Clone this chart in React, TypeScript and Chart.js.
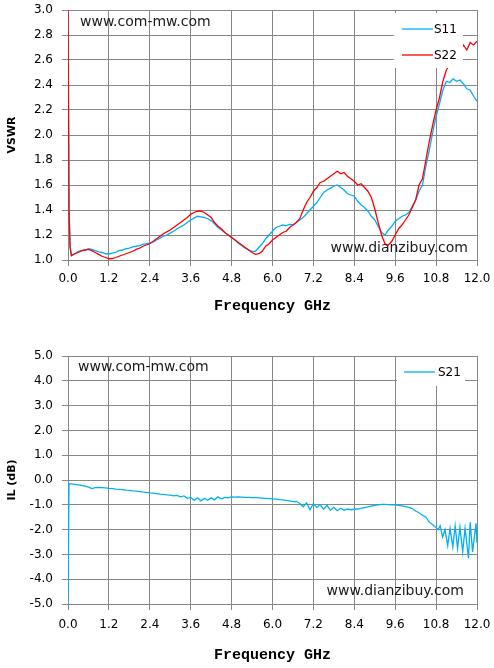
import React, { useEffect, useRef } from 'react';
import { Chart, registerables } from 'chart.js';

Chart.register(...registerables);

// ---------- data ----------
const freqTicks = [0, 1.2, 2.4, 3.6, 4.8, 6.0, 7.2, 8.4, 9.6, 10.8, 12.0];
const vswrTicks = [1.0, 1.2, 1.4, 1.6, 1.8, 2.0, 2.2, 2.4, 2.6, 2.8, 3.0];
const ilTicks = [-5, -4, -3, -2, -1, 0, 1, 2, 3, 4, 5];

const vswrFreqs = [
  0, 0.03, 0.06,
  0.1, 0.2, 0.3, 0.4, 0.5, 0.6, 0.7, 0.8, 0.9, 1.0,
  1.1, 1.2, 1.3, 1.4, 1.5, 1.6, 1.7, 1.8, 1.9, 2.0,
  2.1, 2.2, 2.3, 2.4, 2.5, 2.6, 2.7, 2.8, 2.9, 3.0,
  3.1, 3.2, 3.3, 3.4, 3.5, 3.6, 3.7, 3.8, 3.9, 4.0,
  4.1, 4.2, 4.3, 4.4, 4.5, 4.6, 4.7, 4.8, 4.9, 5.0,
  5.1, 5.2, 5.3, 5.4, 5.5, 5.6, 5.7, 5.8, 5.9, 6.0,
  6.1, 6.2, 6.3, 6.4, 6.5, 6.6, 6.7, 6.8, 6.9, 7.0,
  7.1, 7.2, 7.3, 7.4, 7.5, 7.6, 7.7, 7.8, 7.9, 8.0,
  8.1, 8.2, 8.3, 8.4, 8.5, 8.6, 8.7, 8.8, 8.9, 9.0,
  9.1, 9.2, 9.3, 9.4, 9.5, 9.6, 9.7, 9.8, 9.9, 10.0,
  10.1, 10.2, 10.3, 10.4, 10.5, 10.6, 10.7, 10.8, 10.9, 11.0,
  11.1, 11.2, 11.3, 11.4, 11.5, 11.6, 11.7, 11.8, 11.9, 12.0,
];

const s11 = [
  3.0, 1.45, 1.12,
  1.04, 1.05, 1.07, 1.075, 1.08, 1.09, 1.085, 1.075, 1.065, 1.06,
  1.05, 1.048, 1.055, 1.06, 1.075, 1.08, 1.09, 1.095, 1.105, 1.11,
  1.115, 1.125, 1.13, 1.135, 1.145, 1.16, 1.175, 1.19, 1.2, 1.215,
  1.23, 1.25, 1.265, 1.28, 1.3, 1.32, 1.335, 1.35, 1.345, 1.34,
  1.33, 1.315, 1.29, 1.26, 1.24, 1.22, 1.2, 1.18, 1.16, 1.135,
  1.115, 1.095, 1.08, 1.068, 1.07, 1.1, 1.13, 1.17, 1.2, 1.23,
  1.26, 1.27, 1.28, 1.275, 1.285, 1.28, 1.3, 1.32, 1.34, 1.37,
  1.4, 1.43, 1.46, 1.5, 1.54, 1.56, 1.575, 1.59, 1.6, 1.58,
  1.56, 1.53, 1.52, 1.51, 1.47, 1.44, 1.42, 1.39, 1.35, 1.32,
  1.27, 1.22, 1.2, 1.24, 1.27, 1.31, 1.33, 1.35, 1.36, 1.38,
  1.43, 1.48, 1.55, 1.6, 1.75, 1.88, 2.02, 2.15, 2.25, 2.36,
  2.43, 2.42, 2.45, 2.43, 2.44, 2.41, 2.37, 2.36, 2.31, 2.27,
];

const s22 = [
  3.0, 1.4, 1.1,
  1.035, 1.05, 1.06, 1.075, 1.08, 1.085, 1.075, 1.06, 1.045, 1.03,
  1.02, 1.01, 1.012, 1.02, 1.03, 1.04, 1.05, 1.06, 1.07, 1.085,
  1.095, 1.11, 1.12, 1.13, 1.15, 1.17, 1.19, 1.21, 1.225, 1.24,
  1.26, 1.28, 1.3, 1.32, 1.34, 1.365, 1.38, 1.39, 1.39, 1.38,
  1.36, 1.34, 1.3, 1.27, 1.25, 1.22, 1.2, 1.18, 1.16, 1.14,
  1.12, 1.1, 1.08, 1.06, 1.045, 1.05, 1.07, 1.11, 1.13, 1.16,
  1.18, 1.2, 1.22, 1.23, 1.26, 1.28, 1.3, 1.33, 1.4, 1.46,
  1.5, 1.55, 1.58, 1.62, 1.63, 1.65, 1.67, 1.69, 1.71, 1.69,
  1.7, 1.67, 1.65, 1.63, 1.6, 1.61, 1.58, 1.55, 1.5, 1.41,
  1.3, 1.2, 1.13, 1.12, 1.15, 1.2, 1.25, 1.28, 1.32, 1.36,
  1.42, 1.48, 1.6, 1.65, 1.8, 1.95, 2.08, 2.2, 2.3, 2.43,
  2.52, 2.56, 2.6, 2.63, 2.66, 2.72, 2.68, 2.74, 2.72, 2.75,
];

const ilFreqs = [
  0, 0.03,
  0.1, 0.2, 0.3, 0.4, 0.5, 0.6, 0.7, 0.8, 0.9, 1.0,
  1.1, 1.2, 1.3, 1.4, 1.5, 1.6, 1.7, 1.8, 1.9, 2.0,
  2.1, 2.2, 2.3, 2.4, 2.5, 2.6, 2.7, 2.8, 2.9, 3.0,
  3.1, 3.2, 3.3, 3.4, 3.5, 3.6, 3.7, 3.8, 3.9, 4.0,
  4.1, 4.2, 4.3, 4.4, 4.5, 4.6, 4.7, 4.8, 4.9, 5.0,
  5.1, 5.2, 5.3, 5.4, 5.5, 5.6, 5.7, 5.8, 5.9, 6.0,
  6.1, 6.2, 6.3, 6.4, 6.5, 6.6, 6.7, 6.8, 6.9, 7.0,
  7.1, 7.2, 7.3, 7.4, 7.5, 7.6, 7.7, 7.8, 7.9, 8.0,
  8.1, 8.2, 8.3, 8.4, 8.5, 8.6, 8.7, 8.8, 8.9, 9.0,
  9.1, 9.2, 9.3, 9.4, 9.5, 9.6, 9.7, 9.8, 9.9, 10.0,
  10.1, 10.2, 10.3, 10.4, 10.5, 10.6, 10.7, 10.8,
  10.86, 10.92, 10.99, 11.06, 11.14, 11.21, 11.29, 11.36, 11.43,
  11.5, 11.58, 11.65, 11.75, 11.8, 11.87, 11.97, 12.0,
];

const s21 = [
  -5.0, -0.15,
  -0.16, -0.18, -0.2, -0.22, -0.25, -0.29, -0.35, -0.31, -0.3, -0.31,
  -0.32, -0.34, -0.35, -0.37, -0.38, -0.39, -0.41, -0.42, -0.44, -0.45,
  -0.47, -0.49, -0.5, -0.52, -0.53, -0.55, -0.57, -0.58, -0.6, -0.61,
  -0.64, -0.62, -0.68, -0.64, -0.74, -0.7, -0.82, -0.72, -0.84, -0.74,
  -0.82, -0.72, -0.8, -0.68, -0.76, -0.7, -0.72, -0.68, -0.69, -0.68,
  -0.69, -0.7, -0.7, -0.71, -0.71, -0.72, -0.73, -0.74, -0.75, -0.76,
  -0.77, -0.79, -0.8, -0.82, -0.84, -0.87, -0.86, -0.95, -1.08, -0.92,
  -1.2, -0.95, -1.1, -1.0, -1.18, -1.02, -1.22, -1.1, -1.24, -1.14,
  -1.22, -1.17, -1.2, -1.18, -1.17, -1.14, -1.11, -1.08, -1.05, -1.02,
  -1.0, -0.98, -0.98, -0.99, -1.0, -1.0, -1.02, -1.04, -1.07, -1.1,
  -1.15, -1.25, -1.32, -1.42, -1.5, -1.7, -1.8, -1.92,
  -2.0, -1.85, -2.3, -2.0, -2.65, -1.95, -2.7, -1.85, -2.75,
  -1.9, -2.9, -1.95, -3.15, -1.7, -2.9, -1.75, -2.55,
];

// ---------- styling ----------
const CYAN = '#00B0F0';
const RED = '#FF0000';
const GRID = '#878787';
const SANS = '"DejaVu Sans", Verdana, sans-serif';
const MONO = '"Liberation Mono", "Courier New", monospace';

type Mark = { text: string; dx: number; dy: number; fromRight: boolean; fromBottom: boolean };
type LegendBox = { right: number; top: number; width: number; height: number; lineStart: number; lineEnd: number; textX: number; firstY: number; rowGap: number };

function overlayPlugin(id: string, marks: Mark[], box: LegendBox) {
  return {
    id,
    afterDatasetsDraw(chart: any) {
      const { ctx, chartArea: a } = chart;
      ctx.save();
      ctx.font = '14px ' + SANS;
      ctx.fillStyle = '#1a1a1a';
      ctx.textBaseline = 'middle';
      for (const m of marks) {
        ctx.textAlign = m.fromRight ? 'right' : 'left';
        const x = m.fromRight ? a.right - m.dx : a.left + m.dx;
        const y = m.fromBottom ? a.bottom - m.dy : a.top + m.dy;
        ctx.fillText(m.text, x, y);
      }
      const bx = a.right - box.right;
      const by = a.top + box.top;
      ctx.fillStyle = '#ffffff';
      ctx.fillRect(bx, by, box.width, box.height);
      ctx.font = '12px ' + SANS;
      ctx.textAlign = 'left';
      chart.data.datasets.forEach((ds: any, i: number) => {
        const y = a.top + box.firstY + i * box.rowGap;
        ctx.strokeStyle = ds.borderColor;
        ctx.lineWidth = 1.3;
        ctx.beginPath();
        ctx.moveTo(a.right - box.lineStart, y);
        ctx.lineTo(a.right - box.lineEnd, y);
        ctx.stroke();
        ctx.fillStyle = '#000';
        ctx.fillText(ds.label, a.right - box.textX, y + 0.5);
      });
      ctx.restore();
    },
  };
}

function makeScales(opts: {
  yTicks: number[]; yMin: number; yMax: number; yTitle: string;
  xHeight: number; tickPad: number; xTitlePad: number;
}) {
  const tickFont = { family: SANS, size: 12 };
  return {
    x: {
      type: 'linear' as const,
      min: 0,
      max: 12,
      afterBuildTicks: (s: any) => { s.ticks = freqTicks.map((v) => ({ value: v })); },
      afterFit: (s: any) => {
        s.height = opts.xHeight;
        s.paddingLeft = 0;
        s.paddingRight = 0;
      },
      ticks: {
        callback: (v: any) => Number(v).toFixed(1),
        font: tickFont,
        color: '#000',
        padding: opts.tickPad,
        maxRotation: 0,
        autoSkip: false,
      },
      grid: { color: GRID, lineWidth: 1, tickLength: 6 },
      border: { color: GRID, width: 1 },
      title: {
        display: true,
        text: 'Frequency GHz',
        font: { family: MONO, size: 15, weight: 'bold' as const },
        color: '#000',
        padding: { top: 0, bottom: opts.xTitlePad },
      },
    },
    y: {
      type: 'linear' as const,
      min: opts.yMin,
      max: opts.yMax,
      afterBuildTicks: (s: any) => { s.ticks = opts.yTicks.map((v) => ({ value: v })); },
      afterFit: (s: any) => {
        s.width = 68;
        s.paddingTop = 0;
        s.paddingBottom = 0;
      },
      ticks: {
        callback: (v: any) => Number(v).toFixed(1),
        font: tickFont,
        color: '#000',
        padding: 9,
        autoSkip: false,
      },
      grid: { color: GRID, lineWidth: 1, tickLength: 6 },
      border: { color: GRID, width: 1 },
      title: {
        display: true,
        text: opts.yTitle,
        font: { family: SANS, size: 11, weight: 'bold' as const },
        color: '#000',
        padding: { top: 6, bottom: 0 },
      },
    },
  };
}

const baseOptions = {
  responsive: false,
  animation: false as const,
  events: [] as any[],
  plugins: { legend: { display: false }, tooltip: { enabled: false } },
  elements: { point: { radius: 0 }, line: { tension: 0 } },
};

export default function App() {
  const topRef = useRef<HTMLCanvasElement>(null);
  const botRef = useRef<HTMLCanvasElement>(null);

  useEffect(() => {
    const top = new Chart(topRef.current as HTMLCanvasElement, {
      type: 'line',
      data: {
        datasets: [
          {
            label: 'S11',
            data: vswrFreqs.map((f, i) => ({ x: f, y: s11[i] })),
            borderColor: CYAN,
            borderWidth: 1.3,
            pointRadius: 0,
            fill: false,
            order: 1,
          },
          {
            label: 'S22',
            data: vswrFreqs.map((f, i) => ({ x: f, y: s22[i] })),
            borderColor: RED,
            borderWidth: 1.3,
            pointRadius: 0,
            fill: false,
            order: 0,
          },
        ],
      },
      options: {
        ...baseOptions,
        layout: { padding: { top: 10, right: 17, bottom: 0, left: 0 } },
        scales: makeScales({ yTicks: vswrTicks, yMin: 1, yMax: 3, yTitle: 'VSWR', xHeight: 74, tickPad: 6, xTitlePad: 19 }),
      } as any,
      plugins: [
        overlayPlugin('topOverlay', [
          { text: 'www.com-mw.com', dx: 12, dy: 12, fromRight: false, fromBottom: false },
          { text: 'www.dianzibuy.com', dx: 9, dy: 12, fromRight: true, fromBottom: true },
        ], { right: 83, top: 3, width: 69, height: 55, lineStart: 75, lineEnd: 44, textX: 43, firstY: 19, rowGap: 26 }),
      ],
    });

    const bot = new Chart(botRef.current as HTMLCanvasElement, {
      type: 'line',
      data: {
        datasets: [
          {
            label: 'S21',
            data: ilFreqs.map((f, i) => ({ x: f, y: s21[i] })),
            borderColor: CYAN,
            borderWidth: 1.3,
            pointRadius: 0,
            fill: false,
          },
        ],
      },
      options: {
        ...baseOptions,
        layout: { padding: { top: 22, right: 17, bottom: 0, left: 0 } },
        scales: makeScales({ yTicks: ilTicks, yMin: -5, yMax: 5, yTitle: 'IL (dB)', xHeight: 64, tickPad: 8, xTitlePad: 4 }),
      } as any,
      plugins: [
        overlayPlugin('botOverlay', [
          { text: 'www.com-mw.com', dx: 10, dy: 11, fromRight: false, fromBottom: false },
          { text: 'www.dianzibuy.com', dx: 13, dy: 13, fromRight: true, fromBottom: true },
        ], { right: 80, top: 1, width: 68, height: 29, lineStart: 73, lineEnd: 42, textX: 39, firstY: 16, rowGap: 26 }),
      ],
    });

    return () => {
      top.destroy();
      bot.destroy();
    };
  }, []);

  return (
    <div style={{ position: 'absolute', left: 0, top: 0, width: 494, height: 668, background: '#fff' }}>
      <canvas ref={topRef} width={494} height={334} style={{ display: 'block', width: 494, height: 334 }} />
      <canvas ref={botRef} width={494} height={334} style={{ display: 'block', width: 494, height: 334 }} />
    </div>
  );
}
